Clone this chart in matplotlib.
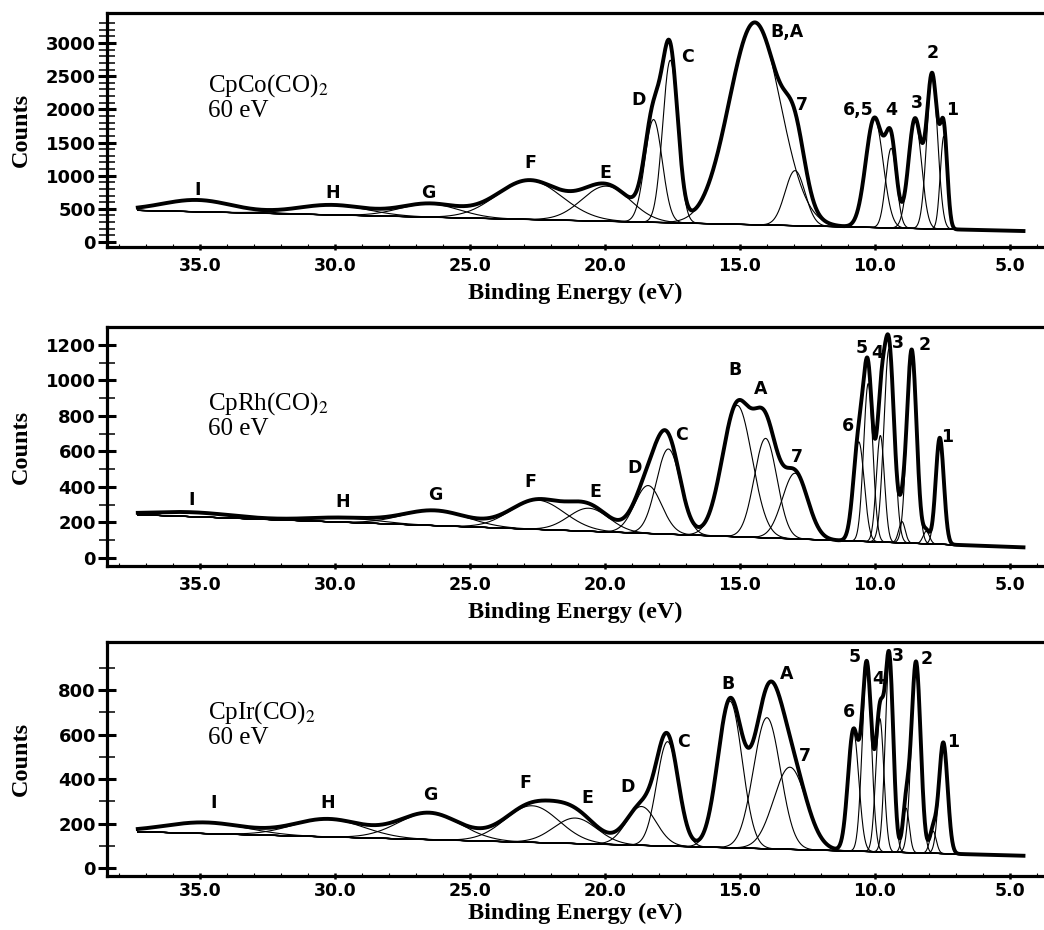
import numpy as np
import matplotlib.pyplot as plt
from matplotlib.ticker import MultipleLocator, FixedLocator

plt.rcParams['font.family'] = 'DejaVu Sans'
plt.rcParams['mathtext.fontset'] = 'stix'

# scan window (eV), same for the three spectra
scan_hi, scan_lo = 37.3, 4.5

# ---- CpCo(CO)2 : fitted bands (centre eV, height above background, width eV)
co_centre = [35.1, 30.1, 26.5, 22.8, 19.95, 18.2, 17.58, 14.45, 12.96, 10.02, 9.4, 8.52, 7.88, 7.45]
co_height = [178, 150, 200, 590, 530, 1550, 2450, 3050, 830, 1650, 1200, 1650, 2300, 1400]
co_width  = [1.3, 1.3, 1.1, 1.2, 0.9, 0.32, 0.28, 0.95, 0.37, 0.32, 0.2, 0.24, 0.2, 0.13]
co_base   = [477, 166]   # background at scan_hi, scan_lo
co_labels = ['I', 'H', 'G', 'F', 'E', 'D', 'C', 'B,A', '7', '6,5', '4', '3', '2', '1']
co_lab_x  = [35.1, 30.1, 26.55, 22.75, 20.0, 18.75, 16.93, 13.25, 12.7, 10.63, 9.38, 8.45, 7.85, 7.16]
co_lab_y  = [784, 739, 739, 1191, 1040, 2141, 2790, 3166, 2066, 1990, 1990, 2096, 2850, 1990]

# ---- CpRh(CO)2
rh_centre = [35.3, 29.7, 26.3, 22.5, 20.6, 18.4, 17.65, 15.1, 14.05, 12.96,
             10.6, 10.25, 9.8, 9.48, 9.0, 8.64, 8.1, 7.6]
rh_height = [25, 25, 85, 165, 130, 270, 480, 740, 560, 370,
             560, 890, 600, 1090, 120, 1090, 70, 600]
rh_width  = [1.5, 1.3, 1.2, 1.0, 0.75, 0.5, 0.45, 0.55, 0.42, 0.47,
             0.2, 0.17, 0.15, 0.19, 0.12, 0.18, 0.12, 0.15]
rh_base   = [244, 60]
rh_labels = ['I', 'H', 'G', 'F', 'E', 'D', 'C', 'B', 'A', '7', '6', '5', '4', '3', '2', '1']
rh_lab_x  = [35.3, 29.7, 26.3, 22.78, 20.37, 18.9, 17.15, 15.19, 14.22, 12.9,
             11.0, 10.48, 9.93, 9.15, 8.15, 7.33]
rh_lab_y  = [327, 316, 355, 428, 372, 507, 693, 1059, 952, 569,
             744, 1183, 1155, 1211, 1200, 682]

# ---- CpIr(CO)2
ir_centre = [34.8, 30.25, 26.5, 22.7, 21.1, 18.65, 17.68, 15.37, 14.0, 13.15,
             10.8, 10.3, 9.82, 9.47, 8.85, 8.48, 7.85, 7.47]
ir_height = [50, 80, 120, 165, 115, 175, 470, 660, 590, 370,
             540, 830, 600, 860, 200, 860, 100, 500]
ir_width  = [1.5, 1.3, 1.15, 1.0, 0.8, 0.55, 0.4, 0.45, 0.5, 0.6,
             0.2, 0.17, 0.15, 0.15, 0.12, 0.17, 0.12, 0.16]
ir_base   = [163, 55]
ir_labels = ['I', 'H', 'G', 'F', 'E', 'D', 'C', 'B', 'A', '7', '6', '5', '4', '3', '2', '1']
ir_lab_x  = [34.5, 30.25, 26.48, 22.96, 20.67, 19.15, 17.1, 15.44, 13.26, 12.6,
             10.96, 10.74, 9.89, 9.15, 8.07, 7.1]
ir_lab_y  = [294, 294, 330, 384, 316, 366, 565, 827, 872, 502,
             700, 949, 850, 954, 940, 569]

names = [r'CpCo(CO)$_2$', r'CpRh(CO)$_2$', r'CpIr(CO)$_2$']
name_top = [2563, 946, 759]
y_limits = [(-75, 3452), (-45, 1301), (-36, 1017)]
y_major = [500, 200, 200]
y_top_tick = [3000, 1200, 800]
y_top_minor = [3300, 1200, 900]
x_ticks = [35, 30, 25, 20, 15, 10, 5]

panels = [
    (co_centre, co_height, co_width, co_base, co_labels, co_lab_x, co_lab_y),
    (rh_centre, rh_height, rh_width, rh_base, rh_labels, rh_lab_x, rh_lab_y),
    (ir_centre, ir_height, ir_width, ir_base, ir_labels, ir_lab_x, ir_lab_y),
]
boxes = [
    [0.1025, 0.7344, 0.8975, 0.2516],
    [0.1025, 0.3914, 0.8975, 0.2570],
    [0.1025, 0.0581, 0.8975, 0.2516],
]
tick_pad = [5, 5, 2.5]
label_pad = [6, 6, 2]

fig = plt.figure(figsize=(10.44, 9.3), dpi=100)
energy = np.linspace(scan_hi, scan_lo, 3000)

for i, (cen, hgt, wid, base, labs, lx, ly) in enumerate(panels):
    ax = fig.add_axes(boxes[i])
    bg = np.interp(energy, [scan_lo, scan_hi], [base[1], base[0]])
    total = bg.copy()
    for c, h, w in zip(cen, hgt, wid):
        band = h * np.exp(-0.5 * ((energy - c) / w) ** 2)
        total += band
        ax.plot(energy, bg + band, color='black', lw=0.8)
    ax.plot(energy, bg, color='black', lw=0.9)
    ax.plot(energy, total, color='black', lw=2.8, solid_joinstyle='round')

    for t, x, y in zip(labs, lx, ly):
        ax.text(x, y, t, ha='center', va='center', fontsize=12.5, fontweight='bold')

    ax.text(34.7, name_top[i], names[i] + '\n60 eV', ha='left', va='top',
            fontsize=18, family='Liberation Serif', linespacing=1.05)

    ax.set_xlim(38.44, 3.74)
    ax.set_ylim(*y_limits[i])
    ax.xaxis.set_major_locator(FixedLocator(x_ticks))
    ax.set_xticklabels(['%.1f' % v for v in x_ticks])
    ax.xaxis.set_minor_locator(MultipleLocator(1))
    ax.yaxis.set_major_locator(FixedLocator(np.arange(0, y_top_tick[i] + 1, y_major[i])))
    ax.yaxis.set_minor_locator(FixedLocator(np.arange(0, y_top_minor[i] + 1, 100)))

    for side in ['left', 'bottom', 'top']:
        ax.spines[side].set_linewidth(2.3)
    ax.spines['right'].set_visible(False)

    ax.tick_params(axis='y', which='major', direction='inout', length=13, width=2.2,
                   pad=1.5, labelsize=13)
    ax.tick_params(axis='y', which='minor', direction='inout', length=11, width=1.1)
    ax.tick_params(axis='x', which='major', direction='inout', length=4, width=1.8,
                   pad=tick_pad[i], labelsize=12.5)
    ax.tick_params(axis='x', which='minor', direction='in', length=2, width=0.8)
    for lab in ax.get_xticklabels() + ax.get_yticklabels():
        lab.set_fontweight('bold')

    ax.set_xlabel('Binding Energy (eV)', family='Liberation Serif', fontweight='bold',
                  fontsize=17.5, labelpad=label_pad[i])
    ax.set_ylabel('Counts', family='Liberation Serif', fontweight='bold', fontsize=17.5)
    ax.yaxis.set_label_coords(-0.08, 0.5)

plt.savefig('out.png', dpi=100)
